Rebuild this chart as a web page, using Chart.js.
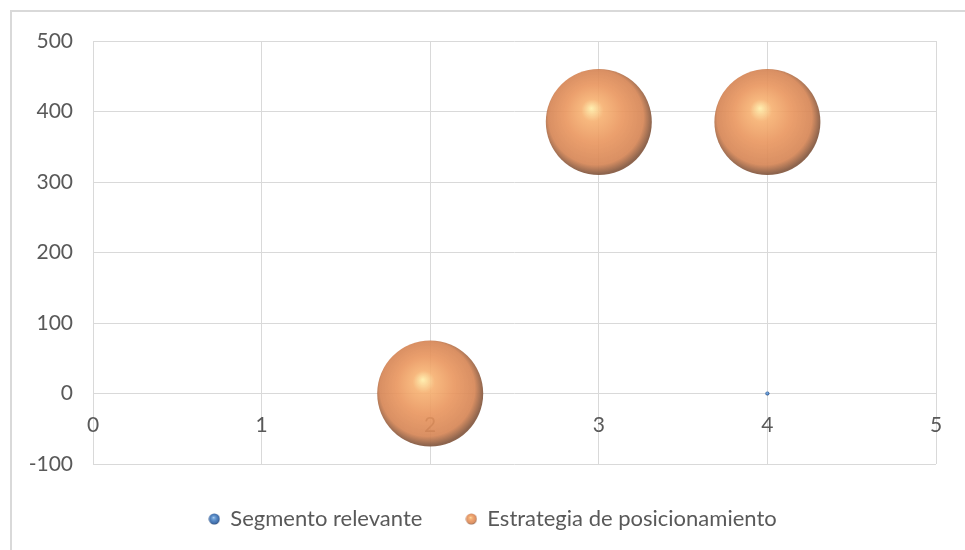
<!DOCTYPE html>
<html>
<head>
<meta charset="utf-8">
<script src="https://cdn.jsdelivr.net/npm/chart.js@4"></script>
<style>
  html, body { margin: 0; padding: 0; background: #fff; }
  #wrap { position: relative; width: 965px; height: 550px; overflow: hidden; }
  #frame { position: absolute; left: 10px; top: 10px; width: 965px; height: 560px; border: 2px solid #d9d9d9; box-sizing: border-box; }
  canvas { position: absolute; left: 0; top: 0; }
</style>
</head>
<body>
<div id="wrap">
  <div id="frame"></div>
  <canvas id="chart" width="965" height="550"></canvas>
</div>
<script>
// chart data
const seriesNames = ['Segmento relevante', 'Estrategia de posicionamiento'];
const segmentoX = [4];
const segmentoY = [0];
const segmentoSize = [0.15];
const estrategiaX = [2, 3, 4];
const estrategiaY = [0, 385, 385];
const estrategiaSize = [100, 100, 100];
const xTicks = [0, 1, 2, 3, 4, 5];
const yTicks = [-100, 0, 100, 200, 300, 400, 500];

const FONT = 'Lato, "Open Sans", sans-serif';
const TEXT = '#595959';
const GRID = '#d9d9d9';
const MAX_R = 53;
const maxSize = Math.max(...segmentoSize, ...estrategiaSize);

// Excel lets bubbles spill over the plot edge, so don't reserve room for them
Chart.registry.getController('bubble').prototype.getMaxOverflow = function () { return 0; };

// bubble area is proportional to size (like Excel)
function radiusFor(size) {
    return Math.max(1.5, MAX_R * Math.sqrt(size / maxSize));
}

function buildPoints(xs, ys, sizes) {
    return xs.map((x, i) => ({ x: x, y: ys[i], r: radiusFor(sizes[i]) }));
}

const palettes = {
    orange: ['rgba(255,238,170,0.92)', 'rgba(246,176,112,0.9)', 'rgba(233,149,93,0.9)', 'rgba(214,134,86,0.92)', 'rgba(135,92,68,0.95)'],
    blue: ['rgba(200,225,250,1)', 'rgba(120,168,220,1)', 'rgba(85,135,195,1)', 'rgba(65,110,170,1)', 'rgba(40,70,115,1)']
};

function sphere(ctx2d, cx, cy, r, pal) {
    const g = ctx2d.createRadialGradient(cx - r * 0.14, cy - r * 0.26, 0, cx - r * 0.04, cy - r * 0.06, r * 1.04);
    g.addColorStop(0, pal[0]);
    g.addColorStop(0.2, pal[1]);
    g.addColorStop(0.52, pal[2]);
    g.addColorStop(0.86, pal[3]);
    g.addColorStop(1, pal[4]);
    return g;
}

function bubbleFill(pal) {
    return function (context) {
        if (context.type !== 'data') return pal[2];
        const chart = context.chart;
        const xs = chart.scales.x, ys = chart.scales.y;
        if (!xs || !ys || !chart.chartArea) return pal[2];
        const raw = context.raw;
        const px = xs.getPixelForValue(raw.x);
        const py = ys.getPixelForValue(raw.y);
        return sphere(chart.ctx, px, py, raw.r, pal);
    };
}

// small sphere images for the legend markers
function legendIcon(pal) {
    const c = document.createElement('canvas');
    c.width = 12; c.height = 12;
    const g = c.getContext('2d');
    g.fillStyle = sphere(g, 6, 6, 5.5, pal);
    g.beginPath();
    g.arc(6, 6, 5.5, 0, Math.PI * 2);
    g.fill();
    return c;
}
const icons = [legendIcon(palettes.blue), legendIcon(palettes.orange)];

// x tick labels sit just under the y = 0 line
const xLabelsAtZero = {
    id: 'xLabelsAtZero',
    beforeDatasetsDraw(chart) {
        const { ctx, scales } = chart;
        const y0 = scales.y.getPixelForValue(0);
        ctx.save();
        ctx.font = '21px ' + FONT;
        ctx.fillStyle = TEXT;
        ctx.textAlign = 'center';
        ctx.textBaseline = 'middle';
        xTicks.forEach(v => {
            ctx.fillText(String(v), scales.x.getPixelForValue(v), y0 + 32);
        });
        ctx.restore();
    }
};

// legend in the original is centred a little right of the canvas centre
const legendShift = {
    id: 'legendShift',
    afterLayout(chart) {
        if (!chart.legend) return;
        chart.legend.left += 20;
        chart.legend.right += 20;
    }
};

new Chart(document.getElementById('chart').getContext('2d'), {
    type: 'bubble',
    data: {
        datasets: [{
            label: seriesNames[0],
            data: buildPoints(segmentoX, segmentoY, segmentoSize),
            backgroundColor: bubbleFill(palettes.blue),
            borderWidth: 0,
            hoverRadius: 0
        }, {
            label: seriesNames[1],
            data: buildPoints(estrategiaX, estrategiaY, estrategiaSize),
            backgroundColor: bubbleFill(palettes.orange),
            borderWidth: 0,
            hoverRadius: 0
        }]
    },
    options: {
        responsive: false,
        animation: false,
        events: [],
        layout: { padding: { left: 10, top: 41, right: 29, bottom: 10 } },
        scales: {
            x: {
                type: 'linear',
                min: xTicks[0],
                max: xTicks[xTicks.length - 1],
                afterBuildTicks: s => { s.ticks = xTicks.map(v => ({ value: v })); },
                grid: { color: GRID, drawTicks: false },
                border: { display: false },
                ticks: { display: false }
            },
            y: {
                type: 'linear',
                min: yTicks[0],
                max: yTicks[yTicks.length - 1],
                afterBuildTicks: s => { s.ticks = yTicks.map(v => ({ value: v })); },
                afterFit: s => { s.width = 83; },
                grid: { color: GRID, drawTicks: false },
                border: { display: false },
                ticks: { color: TEXT, font: { family: FONT, size: 21 }, padding: 20 }
            }
        },
        plugins: {
            tooltip: { enabled: false },
            legend: {
                position: 'bottom',
                labels: {
                    color: TEXT,
                    font: { family: FONT, size: 22 },
                    usePointStyle: true,
                    pointStyleWidth: 10,
                    padding: 44,
                    generateLabels: chart => chart.data.datasets.map((ds, i) => ({
                        text: ds.label,
                        pointStyle: icons[i],
                        fontColor: TEXT,
                        datasetIndex: i,
                        hidden: false,
                        lineWidth: 0
                    }))
                }
            }
        }
    },
    plugins: [xLabelsAtZero, legendShift]
});
</script>
</body>
</html>
